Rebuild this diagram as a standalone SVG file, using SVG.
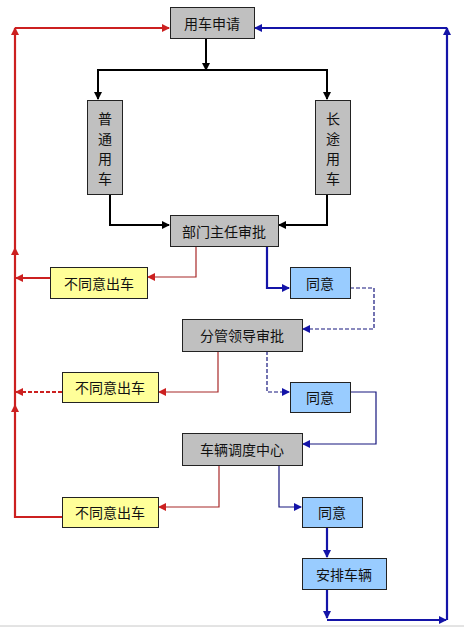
<svg xmlns="http://www.w3.org/2000/svg" width="464" height="628" viewBox="0 0 464 628">
<style>
.box{stroke:#222;stroke-width:1}
.g{fill:#c0c0c0}
.y{fill:#ffff99}
.b{fill:#99ccff}
text{font-family:"Noto Sans CJK SC","Noto Sans",sans-serif;font-size:14px;fill:#111;text-anchor:middle;dominant-baseline:central}
.k{fill:none;stroke:#000;stroke-width:2}
.r2{fill:none;stroke:#cc2020;stroke-width:2.2}
.r1{fill:none;stroke:#a82828;stroke-width:1.2}
.u2{fill:none;stroke:#1414a8;stroke-width:2.2}
.u1{fill:none;stroke:#16167e;stroke-width:1.2}
.d{stroke-dasharray:4,2}
</style>
<defs>
<marker id="ak" markerWidth="8" markerHeight="8" refX="7" refY="4" orient="auto" markerUnits="userSpaceOnUse"><path d="M0,0 L8,4 L0,8 Z" fill="#000"/></marker>
<marker id="ar" markerWidth="8" markerHeight="8" refX="7" refY="4" orient="auto" markerUnits="userSpaceOnUse"><path d="M0,0 L8,4 L0,8 Z" fill="#cc2020"/></marker>
<marker id="au" markerWidth="8" markerHeight="8" refX="7" refY="4" orient="auto" markerUnits="userSpaceOnUse"><path d="M0,0 L8,4 L0,8 Z" fill="#1414a8"/></marker>
</defs>
<rect width="464" height="628" fill="#fff"/>
<line x1="0" y1="626" x2="464" y2="626" stroke="#c8c8c8" stroke-width="1"/>
<g id="connectors">
<path class="k" d="M206,38 V70" marker-end="url(#ak)"/>
<path class="k" d="M98,99 V70 H327 V99" />
<path class="k" d="M98,70 V99" marker-end="url(#ak)"/>
<path class="k" d="M327,70 V99" marker-end="url(#ak)"/>
<path class="k" d="M110,194 V225 H169" marker-end="url(#ak)"/>
<path class="k" d="M327,194 V225 H279" marker-end="url(#ak)"/>
<path class="r1" d="M196,246 V277 H148" marker-end="url(#ar)"/>
<path class="u2" d="M267,246 V288 H289" marker-end="url(#au)"/>
<path class="u1 d" d="M350,288 H374 V329 H303" marker-end="url(#au)"/>
<path class="r1" d="M218,351 V392 H159" marker-end="url(#ar)"/>
<path class="u1 d" d="M267,351 V392 H289" marker-end="url(#au)"/>
<path class="u1" d="M350,392 H376 V444 H303" marker-end="url(#au)"/>
<path class="r1" d="M219,465 V507 H159" marker-end="url(#ar)"/>
<path class="u1" d="M279,465 V507 H301" marker-end="url(#au)"/>
<path class="u2" d="M327,527 V557" marker-end="url(#au)"/>
<path class="r2" d="M50,278 H16" marker-end="url(#ar)"/>
<path class="r2 d" d="M62,392 H16" marker-end="url(#ar)"/>
<path class="r2" d="M62,517 H15 V405" marker-end="url(#ar)"/>
<path class="r2" d="M15,405 V248" marker-end="url(#ar)"/>
<path class="r2" d="M15,248 V28" marker-end="url(#ar)"/>
<path class="r2" d="M15,28 H169" marker-end="url(#ar)"/>
<path class="u2" d="M327,589 V618" marker-end="url(#au)"/>
<path class="u2" d="M327,620 H446" marker-end="url(#au)"/>
<path class="u2" d="M447,620 V28" marker-end="url(#au)"/>
<path class="u2" d="M447,28 H255" marker-end="url(#au)"/>
</g>
<g id="n-apply"><rect class="box g" x="170.5" y="7.5" width="84" height="31"/><text x="212" y="23">用车申请</text></g>
<g id="n-normal"><rect class="box g" x="87.5" y="100.5" width="35" height="94"/><text x="105" y="118">普</text><text x="105" y="138">通</text><text x="105" y="158">用</text><text x="105" y="178">车</text></g>
<g id="n-long"><rect class="box g" x="315.5" y="100.5" width="35" height="94"/><text x="333" y="118">长</text><text x="333" y="138">途</text><text x="333" y="158">用</text><text x="333" y="178">车</text></g>
<g id="n-dept"><rect class="box g" x="170.5" y="215.5" width="108" height="31"/><text x="224" y="231">部门主任审批</text></g>
<g id="n-reject1"><rect class="box y" x="50.5" y="267.5" width="97" height="31"/><text x="99" y="283">不同意出车</text></g>
<g id="n-agree1"><rect class="box b" x="290.5" y="267.5" width="60" height="31"/><text x="320" y="283">同意</text></g>
<g id="n-leader"><rect class="box g" x="182.5" y="319.5" width="120" height="32"/><text x="242" y="335">分管领导审批</text></g>
<g id="n-reject2"><rect class="box y" x="62.5" y="372.5" width="96" height="30"/><text x="110" y="387">不同意出车</text></g>
<g id="n-agree2"><rect class="box b" x="290.5" y="382.5" width="60" height="30"/><text x="320" y="397">同意</text></g>
<g id="n-dispatch"><rect class="box g" x="182.5" y="433.5" width="120" height="32"/><text x="242" y="449">车辆调度中心</text></g>
<g id="n-reject3"><rect class="box y" x="62.5" y="497.5" width="96" height="30"/><text x="110" y="512">不同意出车</text></g>
<g id="n-agree3"><rect class="box b" x="302.5" y="497.5" width="60" height="30"/><text x="332" y="512">同意</text></g>
<g id="n-arrange"><rect class="box b" x="302.5" y="558.5" width="84" height="31"/><text x="344" y="574">安排车辆</text></g>
</svg>
